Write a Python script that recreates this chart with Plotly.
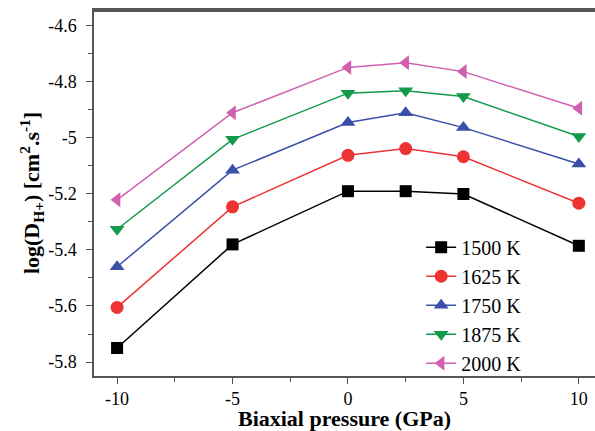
import plotly.graph_objects as go

pressure = [-10, -5, 0, 2.5, 5, 10]
d_1500 = [-5.75, -5.38, -5.19, -5.19, -5.20, -5.385]
d_1625 = [-5.605, -5.246, -5.062, -5.038, -5.067, -5.233]
d_1750 = [-5.46, -5.115, -4.945, -4.91, -4.963, -5.093]
d_1875 = [-5.326, -5.005, -4.84, -4.831, -4.852, -4.995]
d_2000 = [-5.221, -4.91, -4.748, -4.731, -4.763, -4.894]

series_names = ["1500 K", "1625 K", "1750 K", "1875 K", "2000 K"]
series_values = [d_1500, d_1625, d_1750, d_1875, d_2000]
colors = ["#000000", "#ee3333", "#3a4fa8", "#139a4a", "#d060b0"]
symbols = ["square", "circle", "triangle-up", "triangle-down", "triangle-left"]
sizes = [12, 13, 13, 13, 13]

x_tickvals = [-10, -5, 0, 5, 10]
x_ticktext = ["-10", "-5", "0", "5", "10"]
y_tickvals = [-4.6, -4.8, -5.0, -5.2, -5.4, -5.6, -5.8]
y_ticktext = ["-4.6", "-4.8", "-5", "-5.2", "-5.4", "-5.6", "-5.8"]

fig = go.Figure()
for name, vals, c, s, sz in zip(series_names, series_values, colors, symbols, sizes):
    fig.add_trace(go.Scatter(
        x=pressure, y=vals, name=name, mode="lines+markers",
        line=dict(color=c, width=1.5),
        marker=dict(symbol=s, size=sz, color=c, line=dict(width=0)),
    ))

font_family = "Liberation Serif, Times New Roman, serif"
axis_color = "#555555"

fig.update_layout(
    width=595, height=431,
    margin=dict(l=94, r=0, t=10, b=55),
    paper_bgcolor="white", plot_bgcolor="white",
    font=dict(family=font_family, size=18, color="black"),
    showlegend=True,
    legend=dict(
        x=0.653, y=0.405, xanchor="left", yanchor="top",
        bgcolor="rgba(0,0,0,0)", font=dict(size=20, family=font_family),
        tracegroupgap=0, itemwidth=30,
    ),
    xaxis=dict(
        range=[-11, 10.7], showgrid=False, zeroline=False,
        showline=True, mirror=True, linecolor=axis_color, linewidth=1.5,
        ticks="outside", ticklen=6, tickcolor=axis_color,
        tickvals=x_tickvals, ticktext=x_ticktext,
        tickfont=dict(size=18, family=font_family),
        minor=dict(dtick=2.5, tick0=0, ticks="outside", ticklen=4, tickcolor=axis_color, showgrid=False),
        title=dict(text="<b>Biaxial pressure (GPa)</b>", font=dict(size=22, family=font_family), standoff=2),
        automargin=False,
    ),
    yaxis=dict(
        range=[-5.85, -4.543], showgrid=False, zeroline=False,
        showline=True, linecolor=axis_color, linewidth=1.5,
        ticks="outside", ticklen=6, tickcolor=axis_color,
        tickvals=y_tickvals, ticktext=y_ticktext,
        tickfont=dict(size=18, family=font_family),
        ticklabelstandoff=6,
        minor=dict(dtick=0.1, tick0=-4.6, ticks="outside", ticklen=4, tickcolor=axis_color, showgrid=False),
        title=dict(text="<b>log(D<sub>H+</sub>) [cm<sup>2</sup>.s<sup>-1</sup>]</b>",
                   font=dict(size=22, family=font_family), standoff=2),
        automargin=False,
    ),
)
fig.add_shape(type="line", xref="paper", yref="paper", x0=0, x1=1, y0=0.997, y1=0.997,
              layer="above", line=dict(color=axis_color, width=2))

fig.write_html("out.html", config={"displayModeBar": False},
               post_script="document.body.style.margin='0';document.body.style.padding='0';")
